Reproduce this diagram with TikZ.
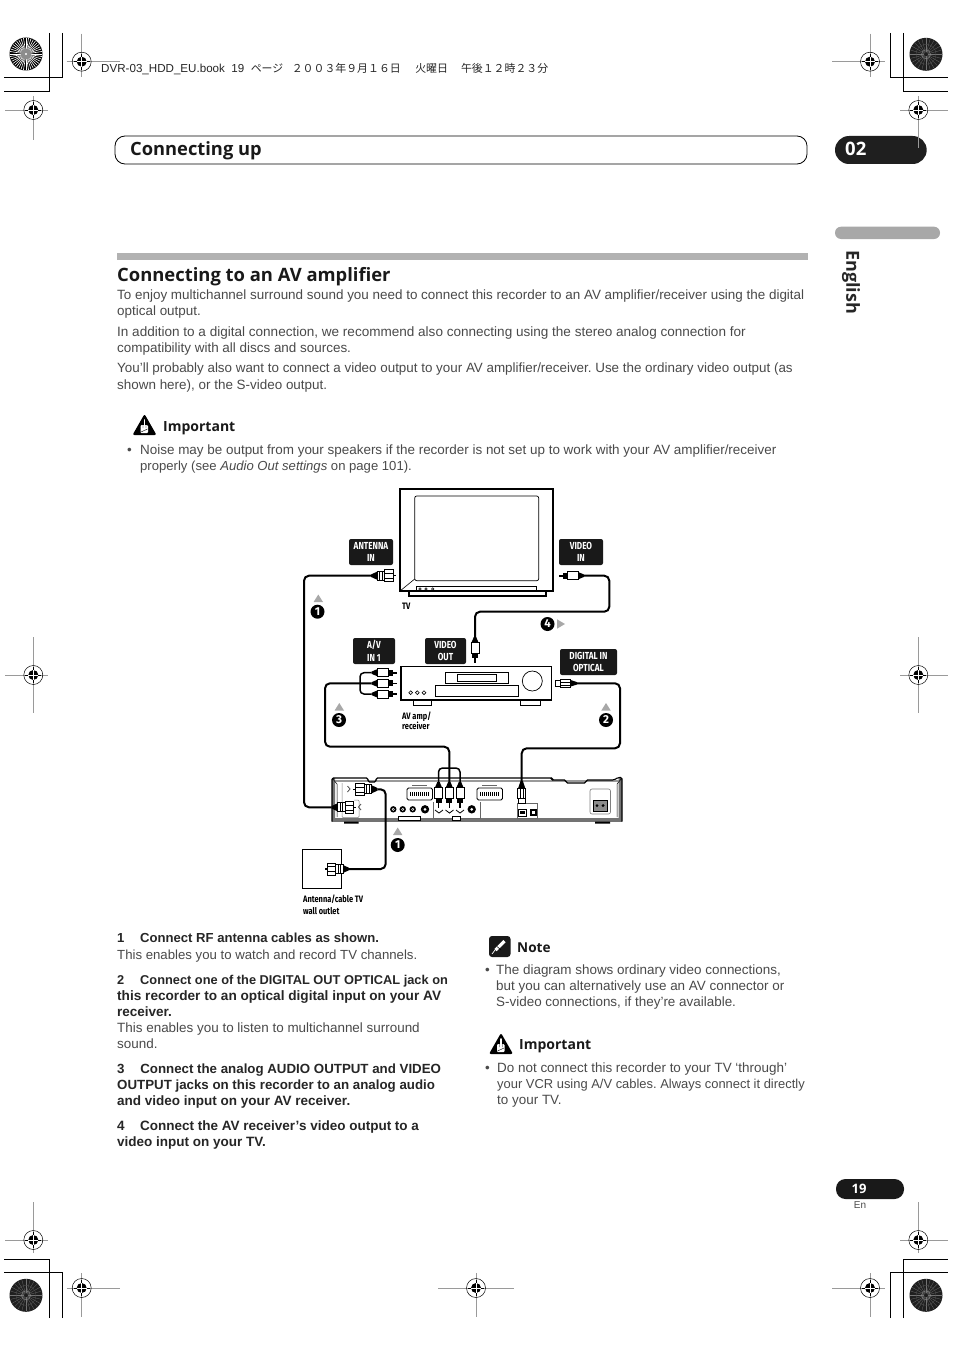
\documentclass[tikz,border=0pt]{standalone}
\usepackage{fontspec}
\setmainfont{Liberation Sans}
\newfontfamily\headf{Open Sans}
\newfontfamily\cond[FakeStretch=0.8]{Fira Sans}
\newfontfamily\numf{Fira Sans}
\newfontfamily\cjk{Noto Sans CJK JP}
\frenchspacing
\definecolor{bodyc}{HTML}{4A4A4A}
\definecolor{ruleg}{HTML}{B2B2B2}
\definecolor{markg}{HTML}{9A9A9A}
\definecolor{arrg}{HTML}{A8A8A8}
\newcounter{tcnt}
\newcommand{\tl}[3]{\stepcounter{tcnt}\node[txt] (t\arabic{tcnt}) at (#1,#2) {#3};}
\newcommand{\bl}[3]{\stepcounter{tcnt}\node[txtb] (t\arabic{tcnt}) at (#1,#2) {#3};}
\newcommand{\regmark}[7]{% name x y left right up down
  \draw[markg,line width=0.8] (#2-#4,#3) -- (#2+#5,#3) (#2,#3-#6) -- (#2,#3+#7);
  \node[circle,draw=black,line width=0.5,fill=none,minimum size=19,inner sep=0] (#1) at (#2,#3) {};
  \fill[black] (#2,#3) circle (5);
  \draw[white,line width=0.9] (#2-5.5,#3) -- (#2+5.5,#3) (#2,#3-5.5) -- (#2,#3+5.5);
  \draw[black,line width=0.7] (#2-8,#3) -- (#2-5,#3) (#2+5,#3) -- (#2+8,#3) (#2,#3-8) -- (#2,#3-5) (#2,#3+5) -- (#2,#3+8);
}
\newcommand{\wheelA}[2]{%
  \fill[black] (#1,#2) circle (16.5);
  \foreach \a in {0,9,...,351}{\draw[white,line width=0.6] (#1,#2) ++(\a:5) -- ++(\a:11);}
  \fill[black!45] (#1,#2) circle (5.5);
  \fill[white] (#1,#2) circle (1.2);
}
\newcommand{\wheelB}[2]{%
  \fill[black!88] (#1,#2) circle (16.5);
  \foreach \a in {0,15,...,345}{\draw[white!45!black,line width=0.25] (#1,#2) ++(\a:2) -- ++(\a:14);}
  \draw[white!55!black,line width=0.4] (#1,#2) circle (4.5);
  \draw[white!30!black,line width=0.4] (#1,#2) circle (10);
}
\newcommand{\warn}[3]{% name x y (centre)
  \node[stubnode] (#1) at (#2,#3) {};
  \fill[black,rounded corners=2] (#2,#3-11) -- (#2+12,#3+10) -- (#2-12,#3+10) -- cycle;
  \draw[white,line width=1.6,line cap=round] (#2,#3-5) -- (#2,#3+3);
  \fill[white,rounded corners=1] (#2-4,#3+0) rectangle (#2+3.5,#3+8);
  \draw[black,line width=0.4] (#2-1.5,#3+0) -- (#2-1.5,#3+3) (#2+1.5,#3+0) -- (#2+1.5,#3+3) (#2-3.5,#3+7) -- (#2+3,#3+4);
}
\tikzset{
  stubnode/.style={inner sep=0,minimum size=0},
  txt/.style={anchor=base west,inner sep=0,text=bodyc,font=\fontsize{13.44}{15}\selectfont},
  txtb/.style={anchor=base west,inner sep=0,text=black!85,font=\fontsize{13.5}{15}\selectfont\bfseries},
  lab/.style={fill=black!90,text=white,rounded corners=2,inner sep=0,align=center,
     font=\cond\bfseries\fontsize{10.2}{12.5}\selectfont},
  captxt/.style={anchor=base west,inner sep=0,text=black,font=\cond\bfseries\fontsize{9.3}{12}\selectfont},
  cable/.style={line width=2,black,rounded corners=5},
  wire/.style={line width=1.5,black,rounded corners=4},
  num/.style={circle,fill=black,text=white,inner sep=0,minimum size=14,font=\numf\bfseries\fontsize{11.5}{12}\selectfont},
  pics/rca/.style={code={
    \fill[black] (0,-1.2) -- (5.5,-3.5) -- (5.5,3.5) -- (0,1.2) -- cycle;
    \draw[black,fill=white,line width=0.7] (5.5,-4) rectangle (16.5,4);
    \fill[black] (16.5,-3) rectangle (21,3);
    \fill[black] (21,-.8) rectangle (25.5,.8);
  }},
  pics/coax/.style={code={
    \fill[black] (0,-1.2) -- (6,-4) -- (6,4) -- (0,1.2) -- cycle;
    \draw[black,fill=white,line width=0.7] (6,-4.5) rectangle (13.5,4.5);
    \draw[black,line width=0.6] (8.5,-4.5) -- (8.5,4.5) (11,-4.5) -- (11,4.5);
    \draw[black,fill=white,line width=0.8] (13.5,-6) rectangle (22,6);
    \draw[black,line width=0.5] (13.5,-2.5) -- (22,-2.5) (13.5,2.5) -- (22,2.5);
    \fill[black] (22,-.6) rectangle (24.5,.6);
  }},
  pics/opt/.style={code={
    \fill[black] (0,-1.2) -- (7,-3.5) -- (7,3.5) -- (0,1.2) -- cycle;
    \draw[black,fill=white,line width=0.7] (7,-4) rectangle (17,4);
    \draw[black,line width=0.6] (17,-1.5) -- (7,-1.5) (17,1.5) -- (7,1.5);
    \draw[black,fill=white,line width=0.8] (17,-3.2) rectangle (22,3.2);
  }},
  pics/sock/.style={code={
    \fill[black] (0,0) circle (3.2);
    \fill[white] (0,0) circle (1.5);
    \fill[black] (0,0) circle (.6);
  }},
}
\begin{document}
\begin{tikzpicture}[x=1pt,y=-1pt]
\useasboundingbox (0,0) rectangle (954,1351);
\fill[white] (0,0) rectangle (954,1351);
%% crop marks
\draw[black,line width=0.8]
 (49.3,33) -- (49.3,91) -- (4,91) (62.3,33) -- (62.3,77.3) -- (4,77.3)
 (903.3,33) -- (903.3,91) -- (948,91) (890.3,33) -- (890.3,77.3) -- (948,77.3)
 (49.3,1318) -- (49.3,1259.7) -- (4,1259.7) (62.3,1318) -- (62.3,1272.3) -- (4,1272.3)
 (903.3,1318) -- (903.3,1259.7) -- (948,1259.7) (890.3,1318) -- (890.3,1272.3) -- (948,1272.3);
\wheelA{26}{54}
\wheelB{926}{54.3}
\wheelB{26}{1295.3}
\wheelB{926}{1295.3}
%% header pills
\draw[black,line width=0.8,rounded corners=10] (115,136) rectangle (807,164);
\node[anchor=base west,inner sep=0,font=\headf\bfseries\fontsize{18.3}{22}\selectfont,text=black!90] (h1) at (130,155.5) {Connecting up};
\fill[black!88,rounded corners=14] (835,136) rectangle (926.7,164);
\node[anchor=base west,inner sep=0,font=\headf\bfseries\fontsize{18.5}{22}\selectfont,text=white] (h2) at (845,155.5) {02};
\fill[arrg,rounded corners=6] (835,226.7) rectangle (940,239);
\node[anchor=west,rotate=-90,inner sep=0,font=\headf\bfseries\fontsize{18}{20}\selectfont,text=black!85] (eng) at (851,250) {English};
%% registration marks
\regmark{r1}{81.7}{61.7}{15}{38}{28}{15}
\regmark{r2}{33.3}{110}{28}{15}{14}{30}
\regmark{r4}{870}{61.7}{38}{15}{28}{15}
\regmark{r5}{918.3}{110}{18}{30}{14}{38}
\regmark{r6}{33.3}{675}{28}{15}{38}{38}
\regmark{r7}{918.3}{675}{18}{30}{38}{38}
\regmark{r8}{33.3}{1240}{28}{15}{38}{13}
\regmark{r9}{81.7}{1288}{15}{38}{15}{29}
\regmark{r10}{476}{1288}{38}{38}{15}{29}
\regmark{r11}{870}{1288}{38}{15}{15}{29}
\regmark{r12}{918.3}{1240}{18}{30}{38}{13}
%% book line
\node[anchor=base west,inner sep=0,font=\fontsize{11.6}{13}\selectfont,text=black!85] (bk) at (101,72.5) {DVR-03\_HDD\_EU.book\ \ 19\hspace{6.5pt}{\cjk\fontsize{10.9}{13}\selectfont ページ\hspace{8.5pt}２００３年９月１６日\hspace{14.5pt}火曜日\hspace{13pt}午後１２時２３分}};
%% title
\fill[ruleg] (117,253) rectangle (808,260);
\node[anchor=base west,inner sep=0,font=\headf\bfseries\fontsize{18.4}{22}\selectfont,text=black!90] (title) at (117,281) {Connecting to an AV amplifier};
%% body
\tl{117}{299}{To enjoy multichannel surround sound you need to connect this recorder to an AV amplifier/receiver using the digital}
\tl{117}{315}{optical output.}
\tl{117}{336}{\fontsize{13.54}{15}\selectfont In addition to a digital connection, we recommend also connecting using the stereo analog connection for}
\tl{117}{352}{compatibility with all discs and sources.}
\tl{117}{372}{\fontsize{13.4}{15}\selectfont You’ll probably also want to connect a video output to your AV amplifier/receiver. Use the ordinary video output (as}
\tl{117}{389}{shown here), or the S-video output.}
\warn{w1}{144.5}{425}
\node[anchor=base west,inner sep=0,font=\headf\bfseries\fontsize{14}{16}\selectfont,text=black!90] (i1) at (163,431) {Important};
\tl{127}{454}{•}
\tl{140}{454}{Noise may be output from your speakers if the recorder is not set up to work with your AV amplifier/receiver}
\tl{140}{470}{\fontsize{13.1}{15}\selectfont properly (see \textit{Audio Out settings} on page 101).}
%% TV
\draw[black,line width=1.6,fill=white] (400,489) rectangle (553,591);
\draw[black,line width=0.7,rounded corners=2] (414.7,496) rectangle (538.7,580.7);
\draw[black,line width=0.6] (400,591) -- (414.7,579);
\draw[black,line width=0.7] (416,586.7) rectangle (536,591);
\draw[black,line width=1.2] (409,591) -- (409,596) -- (546,596) -- (546,591);
\foreach \x in {420,426,432.7}{\draw[black,line width=0.5] (\x,589) circle (1.2);}
\node[captxt] (ctv) at (402,609) {TV};
%% labels
\node[lab,minimum width=44,minimum height=26] (lant) at (371,552) {ANTENNA\\IN};
\node[lab,minimum width=44,minimum height=26] (lvin) at (581,552) {VIDEO\\IN};
\node[lab,minimum width=42,minimum height=26] (lav) at (374,651) {A/V\\IN 1};
\node[lab,minimum width=41,minimum height=26] (lvout) at (445.5,651) {VIDEO\\OUT};
\node[lab,minimum width=57,minimum height=26] (ldig) at (588.5,662) {DIGITAL IN\\OPTICAL};
%% amp
\draw[black,line width=1.5,fill=white] (401,666.7) rectangle (551.7,700);
\draw[black,line width=0.7] (413,700) rectangle (431.5,705) (520,700) rectangle (540,705);
\draw[black,line width=0.7] (445.7,672.7) rectangle (508.3,683.3) (457.7,674.3) rectangle (496.7,681.7);
\draw[black,line width=0.7] (435,685.7) rectangle (518,696.7);
\draw[black,line width=0.7] (532.3,681) circle (10);
\foreach \x in {410.7,417.3,424}{\draw[black,line width=0.6] (\x,692.7) circle (1.9);}
\node[captxt] (camp1) at (402,719) {AV amp/};
\node[captxt] (camp2) at (402,729) {receiver};
%% recorder
\fill[white] (332,778) rectangle (622,821);
\fill[black!55] (332,817.8) rectangle (622,821.5);
\fill[black!55] (332,778) rectangle (335,821) (618.5,778) rectangle (622,821);
\fill[black!40] (335,779.5) rectangle (618.5,782);
\draw[black,line width=1.1,rounded corners=1.5]
  (332,821.5) -- (332,778) -- (368,778) -- (368,782) -- (376,782) -- (376,778) -- (552,778) -- (552,780) -- (566,780) -- (566,783) -- (586,783) -- (586,780) -- (614,780) -- (618,777.5) -- (622,777.5) -- (622,821.5);
\draw[black,line width=0.5] (332,778) -- (337,784) -- (337,817) (622,778) -- (617,784) -- (617,817);
\fill[black] (344,821.5) rectangle (358.5,823.5) (595,821.5) rectangle (610,823.5);
\draw[black!50,line width=0.5,rounded corners=1] (342,783) -- (342,817.5) -- (359,817.5) -- (359,800) -- (354,800);
\draw[black!70,line width=0.8] (347.5,786) -- (350,789) -- (347.5,792) (361,804) -- (358.5,807) -- (361,810);
% scarts
\foreach \x in {407,477}{
  \draw[black,line width=0.8,rounded corners=1.5] (\x,788) rectangle (\x+25.5,800);
  \fill[black] (\x+3,792) rectangle (\x+22.5,796);
  \foreach \k in {0,2,...,18}{\draw[white,line width=0.4] (\x+3.7+\k,792) -- (\x+3.7+\k,796);}
  \draw[black!60,line width=0.4] (\x+5,785.5) -- (\x+20,785.5);
}
\pic at (393.3,809.3) {sock};
\pic at (402.7,809.3) {sock};
\pic at (412.7,809.3) {sock};
\fill[black] (425,809.3) circle (4.2); \fill[white] (425,809.3) circle (1.5);
\fill[black] (471.7,809.3) circle (4.2); \fill[white] (471.7,809.3) circle (1.5);
\draw[black!60,line width=0.4] (433,802) -- (433,818) (480,802) -- (480,818) -- (433,818);
\draw[black,line width=0.8] (435,810) -- (439,813) -- (443,810) (445.5,810) -- (449.5,813) -- (453.5,810) (456,810) -- (460,813) -- (464,810);
\fill[white,draw=black,line width=0.7] (398,816.7) rectangle (420,820) (452,816.7) rectangle (460,820);
% digital sockets
\draw[black!60,line width=0.4] (517,803) rectangle (537,818);
\draw[black,line width=0.8,fill=white] (518,809) rectangle (526.5,816);
\fill[black] (519.5,811) rectangle (525,814);
\fill[black] (530,809) rectangle (537,816); \fill[white] (532,811) rectangle (535,814);
% power
\draw[black!50,line width=0.6,rounded corners=2] (590,789) rectangle (610.5,814);
\draw[black,fill=black!45,line width=1] (593,800) rectangle (607,811);
\fill[black] (597,805.5) circle (1.5) (603,805.5) circle (1.5);
%% wall outlet
\draw[black,line width=0.9] (302.7,849.3) rectangle (341.7,888.3);
\node[captxt] (cw1) at (303,902) {Antenna/cable TV};
\node[captxt] (cw2) at (303,914) {wall outlet};
%% cable end points
\coordinate (antTV) at (371,575.7);
\coordinate (antRec) at (331.5,807.3);
\coordinate (vidTV) at (584,575.7);
\coordinate (vidAmp) at (475,637);
\coordinate (optAmp) at (577,683.3);
\coordinate (optRec) at (521.7,781);
\coordinate (avAmp) at (371.7,683.3);
\coordinate (avRec) at (449.3,782);
\coordinate (avT) at (371.7,672.7);
\coordinate (avB) at (371.7,694);
\coordinate (recL) at (438.5,782);
\coordinate (recR) at (460,782);
\coordinate (rfRec) at (377.7,789.3);
\coordinate (rfWall) at (349,869);
%% cables
\draw[cable] (antTV) -- (304,575.7) -- (304,807.3) -- (antRec);
\draw[cable] (vidTV) -- (609.3,575.7) -- (609.3,611.7) -- (475,611.7) -- (vidAmp);
\draw[cable] (optAmp) -- (620,683.3) -- (620,748.3) -- (521.7,748.3) -- (optRec);
\draw[cable] (avAmp) -- (325,683.3) -- (325,746.7) -- (449.3,746.7) -- (avRec);
\draw[wire] (avT) -- (360,672.7) -- (360,694) -- (avB);
\draw[wire] (recL) -- (438.5,768) -- (460,768) -- (recR);
\draw[cable] (rfRec) -- (385.7,789.3) -- (385.7,869) -- (rfWall);
%% plugs
\pic[rotate=0] at (antTV) {coax};
\pic[rotate=180] at (vidTV) {rca};
\pic[rotate=-90] at (vidAmp) {rca};
\pic[rotate=180] at (optAmp) {opt};
\pic[rotate=-90] at (optRec) {opt};
\pic at (avT) {rca};
\pic at (avAmp) {rca};
\pic at (avB) {rca};
\pic[rotate=-90] at (recL) {rca};
\pic[rotate=-90] at (avRec) {rca};
\pic[rotate=-90] at (recR) {rca};
\pic[rotate=180] at (rfRec) {coax};
\pic at (antRec) {coax};
\pic[rotate=180] at (rfWall) {coax};
%% step numbers and triangles
\fill[arrg] (318.3,594.5) -- (323,602) -- (313.6,602) -- cycle;
\node[num] (n1a) at (317.5,611.7) {1};
\fill[arrg] (339.3,703) -- (344,710.5) -- (334.6,710.5) -- cycle;
\node[num] (n3) at (339,720) {3};
\fill[arrg] (606,703) -- (610.7,710.5) -- (601.3,710.5) -- cycle;
\node[num] (n2) at (606,720) {2};
\node[num] (n4) at (547.5,624) {4};
\fill[arrg] (565,624) -- (557,619.3) -- (557,628.7) -- cycle;
\fill[arrg] (397.7,827.5) -- (402.4,835) -- (393,835) -- cycle;
\node[num] (n1b) at (397.7,845) {1};
%% lower left text
\bl{117}{942}{\fontsize{13.1}{15}\selectfont 1\hspace{15.7pt}Connect RF antenna cables as shown.}
\tl{117}{959}{\fontsize{13.2}{15}\selectfont This enables you to watch and record TV channels.}
\bl{117}{984}{\fontsize{12.8}{15}\selectfont 2\hspace{15.9pt}Connect one of the DIGITAL OUT OPTICAL jack on}
\bl{117}{1000}{\fontsize{13.63}{15}\selectfont this recorder to an optical digital input on your AV}
\bl{117}{1016}{receiver.}
\tl{117}{1032}{This enables you to listen to multichannel surround}
\tl{117}{1048}{sound.}
\bl{117}{1073}{\fontsize{13.3}{15}\selectfont 3\hspace{15.7pt}Connect the analog AUDIO OUTPUT and VIDEO}
\bl{117}{1089}{\fontsize{13.3}{15}\selectfont OUTPUT jacks on this recorder to an analog audio}
\bl{117}{1105}{and video input on your AV receiver.}
\bl{117}{1130}{4\hspace{15.5pt}Connect the AV receiver’s video output to a}
\bl{117}{1146}{video input on your TV.}
%% note
\fill[black!90,rounded corners=3] (489,936) rectangle (510.5,957);
\draw[white,line width=3.2] (495.5,950) -- (504.5,941);
\draw[black,line width=0.5] (497,946.5) -- (501,950);
\draw[white,line width=0.7] (492,954) -- (495,950);
\node[anchor=base west,inner sep=0,font=\headf\bfseries\fontsize{13.6}{16}\selectfont,text=black!90] (i2) at (517,952) {Note};
\tl{485}{974}{•}
\tl{496}{974}{The diagram shows ordinary video connections,}
\tl{496}{990}{but you can alternatively use an AV connector or}
\tl{496}{1006}{S-video connections, if they’re available.}
\warn{w2}{501}{1044}
\node[anchor=base west,inner sep=0,font=\headf\bfseries\fontsize{14}{16}\selectfont,text=black!90] (i3) at (519,1049) {Important};
\tl{485}{1072}{•}
\tl{497}{1072}{Do not connect this recorder to your TV ‘through’}
\tl{497}{1088}{\fontsize{12.93}{15}\selectfont your VCR using A/V cables. Always connect it directly}
\tl{497}{1104}{to your TV.}
%% page number
\fill[black!90,rounded corners=9.5] (836,1179) rectangle (904,1199);
\node[inner sep=0,font=\headf\bfseries\fontsize{13}{15}\selectfont,text=white] (pg) at (859,1189) {19};
\node[inner sep=0,font=\fontsize{10}{12}\selectfont,text=black!70] (en) at (860,1205.5) {En};
\end{tikzpicture}
\end{document}
